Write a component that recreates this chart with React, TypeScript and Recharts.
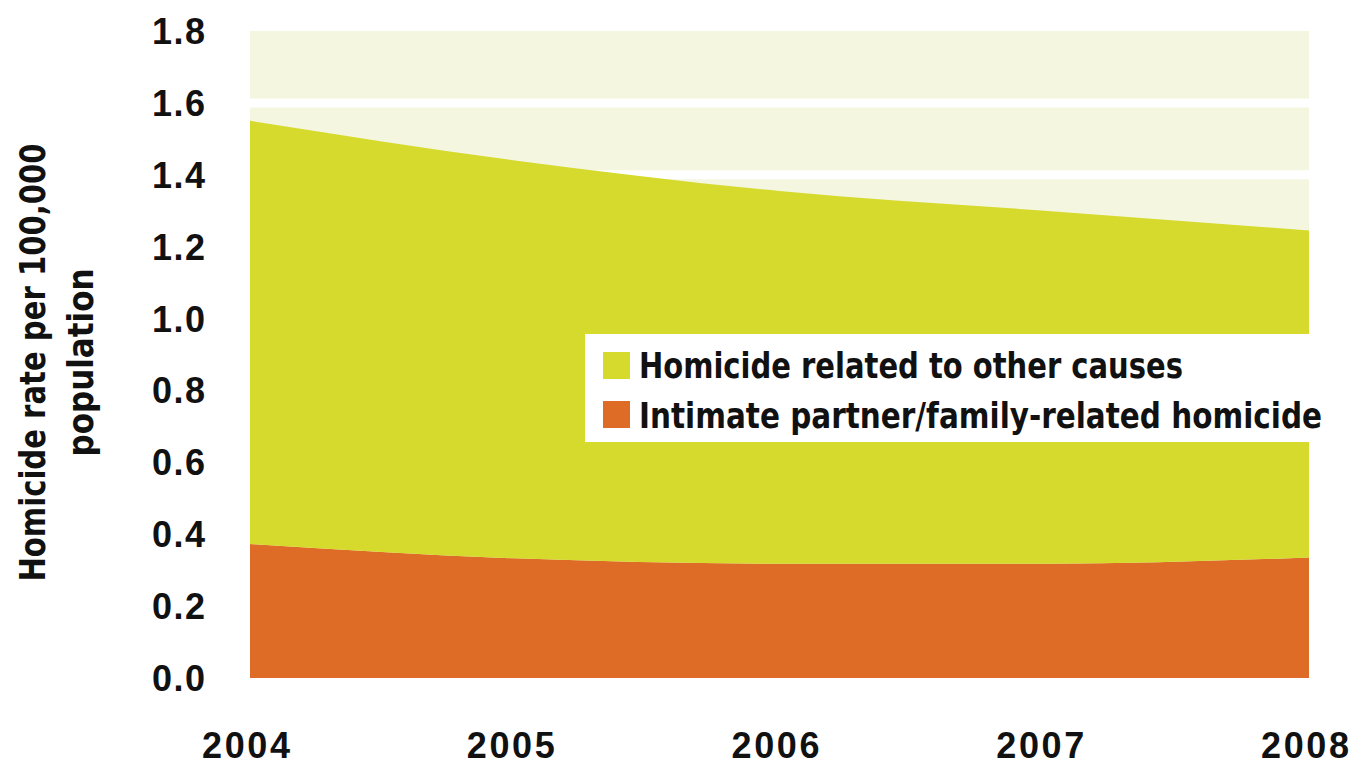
import React from 'react';
import { AreaChart, Area, XAxis, YAxis, CartesianGrid, Legend } from 'recharts';

// Homicide rates per 100,000 population, stacked by type
const years = ['2004', '2005', '2006', '2007', '2008'];
const intimatePartner = [0.373, 0.333, 0.318, 0.318, 0.335];
const otherCauses = [1.177, 1.107, 1.037, 0.982, 0.91];
const yTicks = [0, 0.2, 0.4, 0.6, 0.8, 1.0, 1.2, 1.4, 1.6, 1.8];
const gridValues = [1.4, 1.6];

const seriesNames = {
  other: 'Homicide related to other causes',
  intimate: 'Intimate partner/family-related homicide',
};

const COLORS = {
  other: '#d5da2d',
  intimate: '#df6c26',
  plotBg: '#f4f6df',
  text: '#111111',
};

const data = years.map((year, i) => ({
  year,
  intimate: intimatePartner[i],
  other: otherCauses[i],
}));

const TICK_FONT = "'Liberation Sans', Arial, sans-serif";
const NARROW_FONT = "'Liberation Sans Narrow', 'DejaVu Sans Condensed', 'Liberation Sans', sans-serif";

const YTick = (props: any) => {
  const { x, y, payload } = props;
  return (
    <text
      x={x}
      y={y}
      dy="0.36em"
      textAnchor="end"
      fontFamily={TICK_FONT}
      fontWeight="bold"
      fontSize={36}
      fill={COLORS.text}
      textLength={53}
    >
      {Number(payload.value).toFixed(1)}
    </text>
  );
};

const XTick = (props: any) => {
  const { x, y, payload } = props;
  return (
    <text
      x={x - 4}
      y={y}
      dy={80}
      textAnchor="middle"
      fontFamily={TICK_FONT}
      fontWeight="bold"
      fontSize={36}
      fill={COLORS.text}
      textLength={88}
    >
      {payload.value}
    </text>
  );
};

const YTitle = (props: any) => {
  const { viewBox } = props;
  const cy = viewBox.y + viewBox.height / 2 + 8;
  const x1 = viewBox.x + 45;
  const x2 = viewBox.x + 93;
  const common = {
    textAnchor: 'middle' as const,
    fontFamily: NARROW_FONT,
    fontWeight: 'bold',
    fontSize: 36,
    fill: COLORS.text,
    lengthAdjust: 'spacingAndGlyphs' as const,
  };
  return (
    <g>
      <text x={x1} y={cy} transform={`rotate(-90, ${x1}, ${cy})`} textLength={438} {...common}>
        Homicide rate per 100,000
      </text>
      <text x={x2} y={cy} transform={`rotate(-90, ${x2}, ${cy})`} textLength={188} {...common}>
        population
      </text>
    </g>
  );
};

const legendRows = [
  { key: 'other', textLength: 544 },
  { key: 'intimate', textLength: 683 },
];

const LegendBox = () => (
  <svg width={745} height={108} style={{ display: 'block' }}>
    <rect x={0} y={0} width={745} height={108} fill="#ffffff" />
    {legendRows.map((row, i) => (
      <g key={row.key}>
        <rect x={18} y={18 + i * 49} width={27} height={27} fill={(COLORS as any)[row.key]} />
        <text
          x={54}
          y={44 + i * 50}
          fontFamily={NARROW_FONT}
          fontWeight="bold"
          fontSize={36}
          fill={COLORS.text}
          textLength={row.textLength}
          lengthAdjust="spacingAndGlyphs"
        >
          {(seriesNames as any)[row.key]}
        </text>
      </g>
    ))}
  </svg>
);

export default function App() {
  return (
    <div style={{ position: 'absolute', left: 0, top: 0, width: 1352, height: 762, background: '#ffffff' }}>
      <AreaChart
        width={1352}
        height={762}
        data={data}
        margin={{ top: 31, right: 43, bottom: 0, left: 0 }}
      >
        <CartesianGrid
          vertical={false}
          horizontalValues={gridValues}
          stroke="#ffffff"
          strokeWidth={9}
          fill={COLORS.plotBg}
          fillOpacity={1}
        />
        <XAxis
          dataKey="year"
          height={84}
          axisLine={false}
          tickLine={false}
          tickSize={0}
          tickMargin={0}
          tick={<XTick />}
          interval={0}
        />
        <YAxis
          width={250}
          domain={[0, 1.8]}
          ticks={yTicks}
          axisLine={false}
          tickLine={false}
          tickSize={0}
          tickMargin={45}
          tick={<YTick />}
          interval={0}
          label={{ content: <YTitle /> }}
        />
        <Area
          type="monotone"
          dataKey="intimate"
          name={seriesNames.intimate}
          stackId="rates"
          stroke="none"
          fill={COLORS.intimate}
          fillOpacity={1}
          isAnimationActive={false}
        />
        <Area
          type="monotone"
          dataKey="other"
          name={seriesNames.other}
          stackId="rates"
          stroke="none"
          fill={COLORS.other}
          fillOpacity={1}
          isAnimationActive={false}
        />
        <Legend
          layout="horizontal"
          verticalAlign="middle"
          align="center"
          content={<LegendBox />}
          wrapperStyle={{ position: 'absolute', left: 585, top: 334, width: 745, height: 108 }}
        />
      </AreaChart>
    </div>
  );
}
